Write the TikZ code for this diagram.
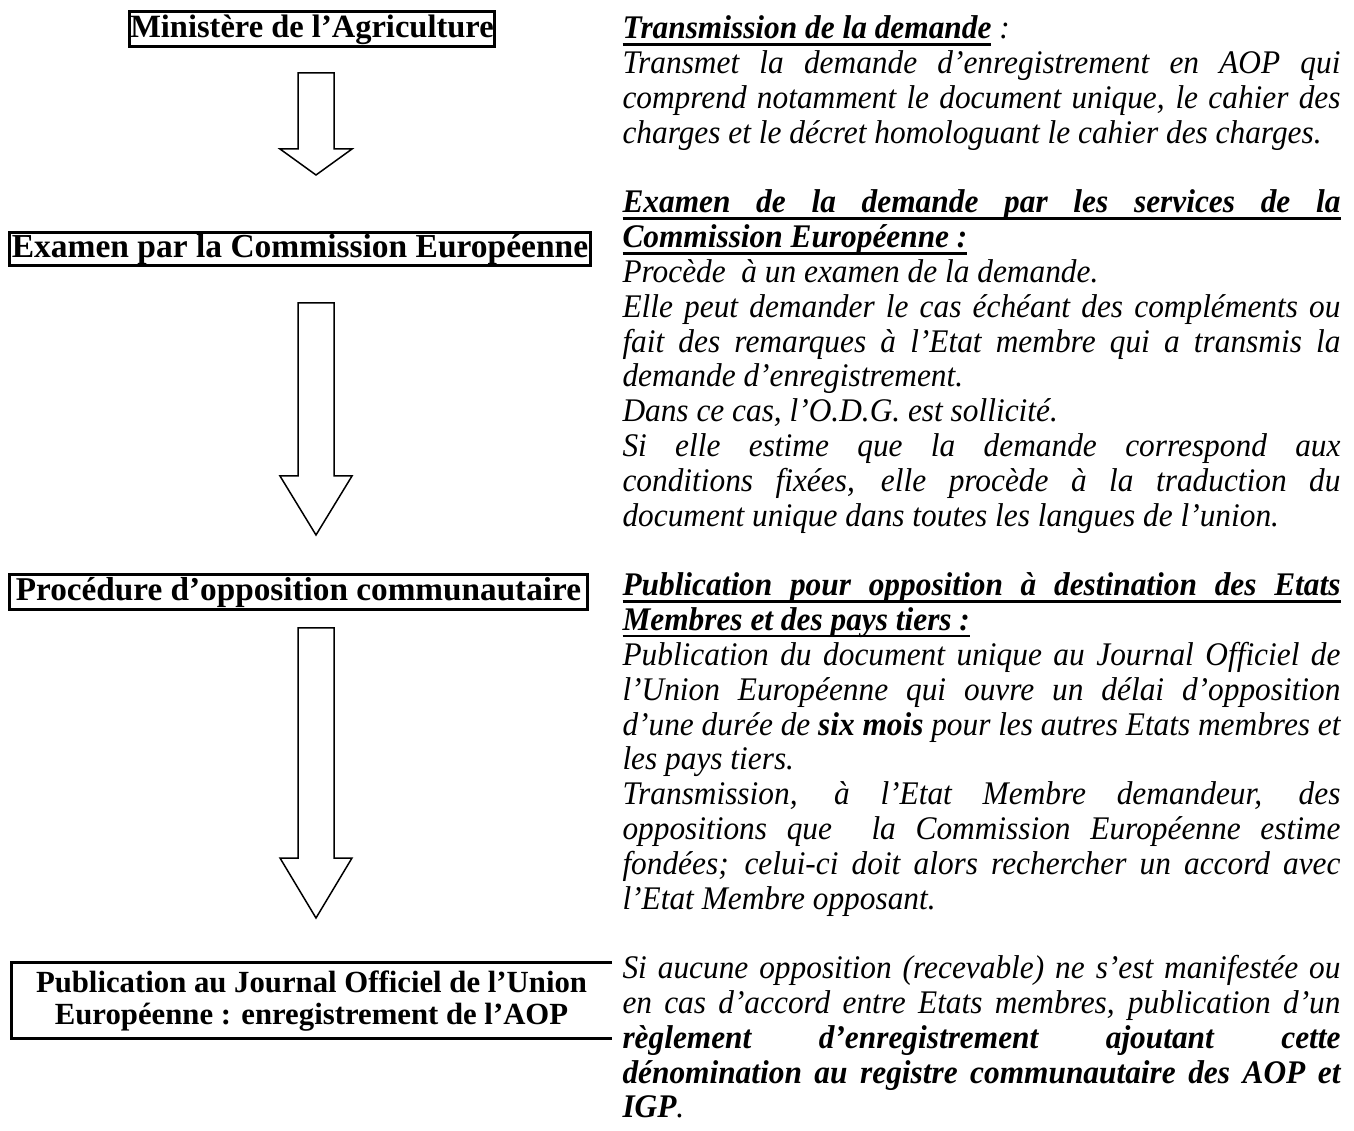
\documentclass[tikz,border=0pt]{standalone}
\usepackage{fontspec}
\setmainfont{Liberation Serif}
\newfontfamily\sidefont{Liberation Serif}[FakeStretch=0.95]
\newcommand{\flowarrow}[4]{% center x, top y, head base y, tip y
  \draw[blockarrow] (#1-18,#2) -- (#1+18,#2) -- (#1+18,#3) -- (#1+36,#3)
    -- (#1,#4) -- (#1-36,#3) -- (#1-18,#3) -- cycle;}
% underline for a line that is justified to full width
\newcommand{\fullul}{\leavevmode\rlap{\rule[-2.7pt]{\hsize}{1.1pt}}}
% underline for a short piece of text
\newcommand{\shortul}[1]{\leavevmode\setbox0=\hbox{#1}\rlap{\rule[-2.7pt]{\wd0}{1.1pt}}\box0\relax}
\tikzset{
  stagebox/.style={draw, line width=1.2pt, inner sep=0pt, align=center},
  blockarrow/.style={draw, line width=0.6pt, line join=miter},
  sidetext/.style={anchor=base west, inner sep=0pt, text width=287.2pt, align=justify,
    font=\sidefont\fontsize{13.2}{13.92}\selectfont\itshape},
}
\begin{document}
\begin{tikzpicture}[x=0.4pt,y=-0.4pt]
\useasboundingbox (0,0) rectangle (1354,1131);

% left column stages
\node[stagebox, minimum width=145.6pt, minimum height=14pt, font=\fontsize{13}{13}\selectfont\bfseries] (s1) at (312,29.5) {Ministère de l’Agriculture};
\node[stagebox, minimum width=232pt, minimum height=13.2pt, font=\fontsize{13.4}{13}\selectfont\bfseries] (s2) at (300,249) {Examen par la Commission Européenne};
\node[stagebox, minimum width=230.8pt, minimum height=14pt, font=\fontsize{13.3}{13}\selectfont\bfseries] (s3) at (298.5,592.5) {Procédure d’opposition communautaire};
\coordinate (s4tr) at (612,962);
\coordinate (s4tl) at (11,962);
\coordinate (s4bl) at (11,1038);
\coordinate (s4br) at (612,1038);
\draw[line width=1.2pt] (s4tr) -- (s4tl) -- (s4bl) -- (s4br);
\node[align=center, inner sep=0pt, font=\fontsize{12.3}{12.8}\selectfont\bfseries] (s4) at (311.5,1001)
  {Publication au Journal Officiel de l’Union\\Européenne : enregistrement de l’AOP};

% block arrows
\flowarrow{316}{73}{149}{175}
\flowarrow{316}{303}{476}{535}
\flowarrow{316}{628}{858}{918}

% right column
\node[sidetext] (txt) at (622,39) {\setlength{\parindent}{0pt}\setlength{\parskip}{0pt}\hyphenpenalty=10000 \lineskiplimit=-\maxdimen
\shortul{\textbf{Transmission de la demande}} :\par
Transmet la demande d’enregistrement en AOP qui\linebreak
comprend notamment le document unique, le cahier des\linebreak
charges et le décret homologuant le cahier des charges.\par
\vskip\baselineskip
\fullul\textbf{Examen de la demande par les services de la}\linebreak
\shortul{\textbf{Commission Européenne :}}\par
Procède\ \ à un examen de la demande.\par
Elle peut demander le cas échéant des compléments ou\linebreak
fait des remarques à l’Etat membre qui a transmis la\linebreak
demande d’enregistrement.\par
Dans ce cas, l’O.D.G. est sollicité.\par
Si elle estime que la demande correspond aux\linebreak
conditions fixées, elle procède à la traduction du\linebreak
document unique dans toutes les langues de l’union.\par
\vskip\baselineskip
\fullul\textbf{Publication pour opposition à destination des Etats}\linebreak
\shortul{\textbf{Membres et des pays tiers :}}\par
Publication du document unique au Journal Officiel de\linebreak
l’Union Européenne qui ouvre un délai d’opposition\linebreak
d’une durée de \textbf{six mois} pour les autres Etats membres et\linebreak
les pays tiers.\par
Transmission, à l’Etat Membre demandeur, des\linebreak
oppositions que\ \ la Commission Européenne estime\linebreak
fondées; celui-ci doit alors rechercher un accord avec\linebreak
l’Etat Membre opposant.\par
\vskip\baselineskip
Si aucune opposition (recevable) ne s’est manifestée ou\linebreak
en cas d’accord entre Etats membres, publication d’un\linebreak
\textbf{règlement d’enregistrement ajoutant cette}\linebreak
\textbf{dénomination au registre communautaire des AOP et}\linebreak
\textbf{IGP}.};
\end{tikzpicture}
\end{document}
